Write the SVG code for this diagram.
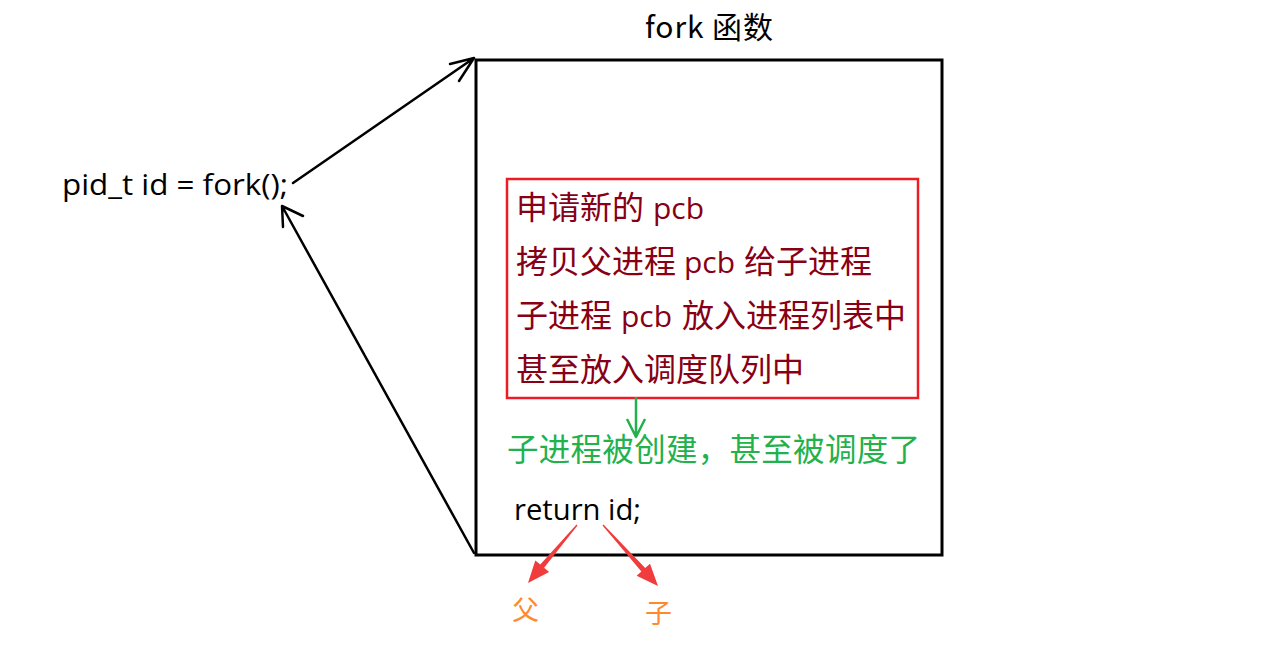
<svg xmlns="http://www.w3.org/2000/svg" width="1263" height="647" viewBox="0 0 1263 647">
<style>
.lat{font-family:"Open Sans","Noto Sans","Noto Sans CJK SC",sans-serif;}
.cjk{font-family:"Noto Sans CJK SC","Noto Sans",sans-serif;}
.blk{fill:#000;}
.red{fill:#880015;font-size:32px;}
.grn{fill:#22b14c;font-size:31.5px;}
.org{fill:#ff8a2e;font-size:27px;}
.ln{fill:none;stroke:#000;stroke-width:2.5;stroke-linecap:round;stroke-linejoin:round;}
</style>
<rect width="1263" height="647" fill="#fff"/>
<g id="title"><text class="cjk blk" x="645" y="38" font-size="30" textLength="128">fork 函数</text></g>
<g id="call"><text class="lat blk" x="62" y="195" font-size="29" textLength="226" lengthAdjust="spacingAndGlyphs">pid_t id = fork();</text></g>
<g id="forkbox"><rect x="476" y="60" width="466" height="495" fill="none" stroke="#000" stroke-width="3"/></g>
<g id="steps">
<rect x="507" y="179" width="411" height="219" fill="none" stroke="#ed1c24" stroke-width="2.5"/>
<text class="cjk red" y="219"><tspan x="516">申请新的</tspan><tspan class="lat" x="653" font-size="30">pcb</tspan></text>
<text class="cjk red" y="273"><tspan x="516">拷贝父进程</tspan><tspan class="lat" x="684" font-size="30">pcb</tspan><tspan x="744">给子进程</tspan></text>
<text class="cjk red" y="327"><tspan x="516">子进程</tspan><tspan class="lat" x="621" font-size="30">pcb</tspan><tspan x="682">放入进程列表中</tspan></text>
<text class="cjk red" y="381"><tspan x="516">甚至放入调度队列中</tspan></text>
</g>
<g id="created"><text class="cjk grn" x="507" y="461" textLength="413">子进程被创建，甚至被调度了</text></g>
<g id="ret"><text class="lat blk" x="514" y="520" font-size="29" textLength="127" lengthAdjust="spacingAndGlyphs">return id;</text></g>
<g id="parent"><text class="cjk org" x="512" y="620">父</text></g>
<g id="child"><text class="cjk org" x="645" y="623">子</text></g>
<g id="connectors">
<path class="ln" d="M293 183 L474 58 M450 64 L474 58 L459 81"/>
<path class="ln" d="M474 553 L282 206 M303 216 L282 206 L283 227"/>
<path d="M636 397 V437 M627 419 L636 437 L645 419" fill="none" stroke="#22b14c" stroke-width="2.5" stroke-linejoin="round"/>
<polygon points="576.5,524.5 540.3,564.6 535.3,560.4 528,583 549.1,572 544.1,567.8 577.5,525.5" fill="#f03c3c"/>
<polygon points="602.5,525.5 603.5,524.5 645.2,568 650,563.7 658,586 636.6,575.7 641.4,571.4" fill="#f03c3c"/>
</g>
</svg>
